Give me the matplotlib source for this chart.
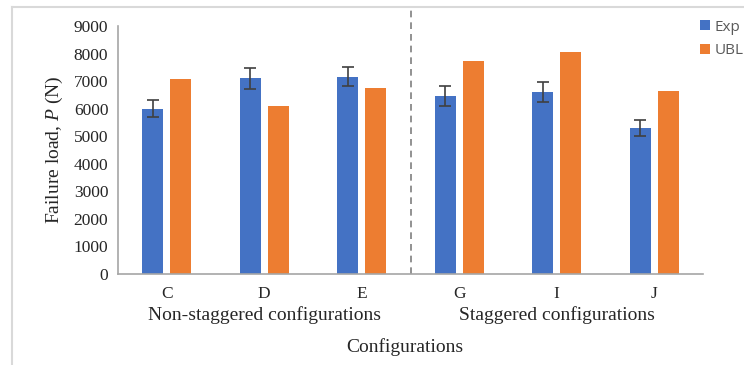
import numpy as np
import matplotlib.pyplot as plt
from matplotlib.lines import Line2D

categories = ["C", "D", "E", "G", "I", "J"]
exp_values = [6000, 7100, 7160, 6460, 6600, 5290]
exp_errors = [300, 370, 350, 350, 360, 290]
ubl_values = [7090, 6100, 6760, 7730, 8070, 6640]
group_labels = ["Non-staggered configurations", "Staggered configurations"]
y_ticks = [0, 1000, 2000, 3000, 4000, 5000, 6000, 7000, 8000, 9000]

blue = "#4472C4"
orange = "#ED7D31"
serif = "Liberation Serif"

plt.rcParams["mathtext.fontset"] = "custom"
plt.rcParams["mathtext.rm"] = "Liberation Serif"
plt.rcParams["mathtext.it"] = "Liberation Serif:italic"

fig = plt.figure(figsize=(7.44, 3.65), dpi=100)
ax = fig.add_axes([118 / 744, 1 - 274 / 365, 585 / 744, 248 / 365])

x = np.arange(len(categories))
w = 0.215
ax.bar(x - 0.145, exp_values, w, color=blue, label="Exp", zorder=2)
ax.errorbar(x - 0.145, exp_values, yerr=exp_errors, fmt="none",
            ecolor="#404040", elinewidth=1.2, capsize=4, capthick=1.2, zorder=3)
ax.bar(x + 0.145, ubl_values, w, color=orange, label="UBL", zorder=2)

ax.set_xlim(-0.5, len(categories) - 0.5)
ax.set_ylim(0, 9000)
ax.set_yticks(y_ticks)
ax.set_yticklabels([str(v) for v in y_ticks], fontfamily=serif, fontsize=12.5, color="#262626")
ax.set_xticks(x)
ax.set_xticklabels(categories, fontfamily=serif, fontsize=12.5, color="#262626")
ax.tick_params(length=0, pad=7)
ax.tick_params(axis="x", pad=9)

for s in ["top", "right"]:
    ax.spines[s].set_visible(False)
for s in ["left", "bottom"]:
    ax.spines[s].set_color("#A6A6A6")
    ax.spines[s].set_linewidth(1.2)

# separator between the two groups
ax.plot([2.5, 2.5], [0, 9700], ls=(0, (4, 3)), color="#7F7F7F", lw=1.2,
        clip_on=False, zorder=1)

ax.set_ylabel("Failure load, $\\it{P}$ (N)", fontfamily=serif, fontsize=14,
              color="#262626", labelpad=6)

# group labels and axis title
ax.text(1, -0.165, group_labels[0], transform=ax.get_xaxis_transform(),
        ha="center", va="center", fontfamily=serif, fontsize=14, color="#262626")
ax.text(4, -0.165, group_labels[1], transform=ax.get_xaxis_transform(),
        ha="center", va="center", fontfamily=serif, fontsize=14, color="#262626")
fig.text(405 / 744, 1 - 347 / 365, "Configurations", ha="center", va="center",
         fontfamily=serif, fontsize=14, color="#262626")

fig.legend(loc="upper left", bbox_to_anchor=(692 / 744, 1 - 12 / 365),
           frameon=False, prop={"family": "Open Sans", "size": 11},
           handlelength=0.65, handleheight=0.65, handletextpad=0.35,
           labelspacing=0.55, borderpad=0, labelcolor="#595959")

# light frame around the figure
fig.add_artist(Line2D([12 / 744, 1], [1 - 7 / 365, 1 - 7 / 365], color="#D9D9D9", lw=1.5))
fig.add_artist(Line2D([12 / 744, 12 / 744], [0, 1 - 7 / 365], color="#D9D9D9", lw=1.5))

fig.savefig("out.png", dpi=100)
